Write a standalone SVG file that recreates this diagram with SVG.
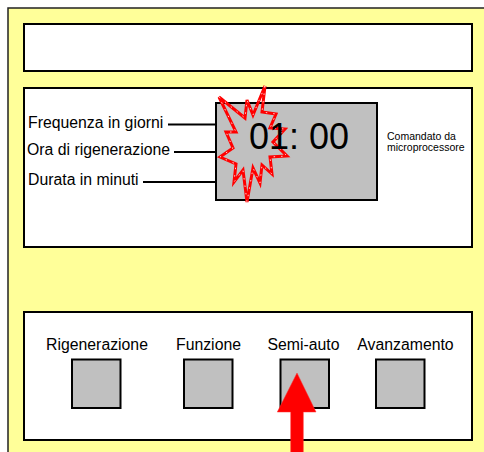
<svg xmlns="http://www.w3.org/2000/svg" width="484" height="452" viewBox="0 0 484 452">
<style>
.panel{fill:#fff;stroke:#000;stroke-width:2}
.grey{fill:#c0c0c0;stroke:#000;stroke-width:2}
.lbl{font-family:"Liberation Sans",Arial,sans-serif;font-size:15.8px;fill:#000}
.small{font-family:"Liberation Sans",Arial,sans-serif;font-size:10.5px;fill:#000}
.lead{stroke:#000;stroke-width:2;fill:none}
</style>
<rect id="housing" x="8" y="8" width="490" height="460" fill="#ffff99" stroke="#222" stroke-width="1.5"/>
<g id="top-panel"><rect class="panel" x="24" y="24" width="448" height="47"/></g>
<g id="display-panel">
<rect class="panel" x="24" y="88" width="448" height="159"/>
<rect class="grey" x="216" y="103" width="161" height="97"/>
<path d="M265,86 L262,112 L276,114 L270,128 L285,129 L273,142 L287,156 L270,157 L272,174 L262,165 L260,183 L253,168 L247,202 L243,170 L234,182 L236,164 L220,157 L233,148 L226,132 L236,132 L219,97 L245,118 L247,100 L253,115 Z" fill="none" stroke="#ff0000" stroke-width="3" stroke-linejoin="miter"/>
<path d="M265,86 L262,112 L276,114 L270,128 L285,129 L273,142 L287,156 L270,157 L272,174 L262,165 L260,183 L253,168 L247,202 L243,170 L234,182 L236,164 L220,157 L233,148 L226,132 L236,132 L219,97 L245,118 L247,100 L253,115 Z" fill="none" stroke="#ffffff" stroke-width="0.8" stroke-dasharray="1.5 6"/>
<text x="249" y="149" font-family="Liberation Sans,Arial,sans-serif" font-size="36" fill="#000">01: 00</text>
<text class="small" x="387" y="140">Comandato da</text>
<text class="small" x="387" y="151">microprocessore</text>
</g>
<g id="labels">
<text class="lbl" x="28" y="128">Frequenza in giorni</text>
<text class="lbl" x="27" y="155">Ora di rigenerazione</text>
<text class="lbl" x="28" y="185">Durata in minuti</text>
</g>
<g id="connectors">
<line class="lead" x1="168" y1="124.5" x2="216" y2="124.5"/>
<line class="lead" x1="174" y1="152" x2="216" y2="152"/>
<line class="lead" x1="143" y1="182" x2="216" y2="182"/>
</g>
<g id="button-panel">
<rect class="panel" x="24" y="312" width="448" height="128"/>
</g>
<g id="btn-rigenerazione">
<text class="lbl" x="97" y="350" text-anchor="middle">Rigenerazione</text>
<rect class="grey" x="72" y="359.5" width="48.5" height="48.5"/>
</g>
<g id="btn-funzione">
<text class="lbl" x="208.5" y="350" text-anchor="middle">Funzione</text>
<rect class="grey" x="184" y="359.5" width="48.5" height="48.5"/>
</g>
<g id="btn-semiauto">
<text class="lbl" x="303.5" y="350" text-anchor="middle">Semi-auto</text>
<rect class="grey" x="280.5" y="359.5" width="48.5" height="48.5"/>
</g>
<g id="btn-avanzamento">
<text class="lbl" x="405.5" y="350" text-anchor="middle">Avanzamento</text>
<rect class="grey" x="376" y="359.5" width="48.5" height="48.5"/>
</g>
<g id="arrow">
<polygon points="297,373 316,412 303.3,412 303.3,455 290.7,455 290.7,412 277.3,412" fill="#ff0000" stroke="#ff3333" stroke-width="0.5"/>
</g>
</svg>
